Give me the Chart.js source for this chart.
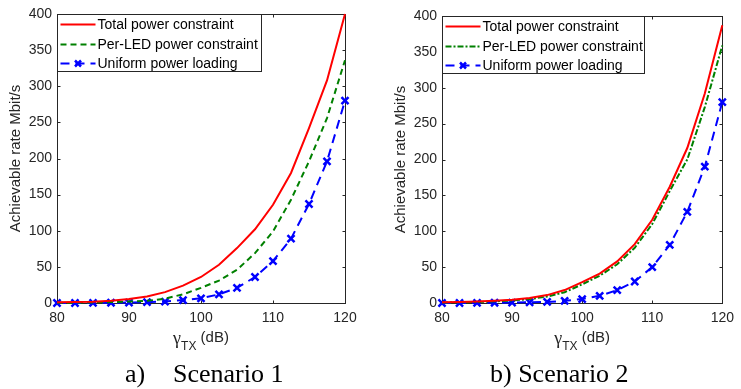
<!DOCTYPE html>
<html>
<head>
<meta charset="utf-8">
<script src="https://cdn.jsdelivr.net/npm/chart.js@4"></script>
<style>
body { margin:0; background:#fff; width:741px; height:389px; overflow:hidden; position:relative; }
canvas { position:absolute; top:0; }
.cap { position:absolute; font-family:"Liberation Serif", "Times New Roman", serif; font-size:26px; color:#000; white-space:pre; line-height:26px; }
</style>
</head>
<body>
<canvas id="c1" width="370" height="360" style="left:0"></canvas>
<canvas id="c2" width="371" height="360" style="left:370px"></canvas>
<div class="cap" style="left:125px; top:361px">a)</div>
<div class="cap" style="left:173px; top:361px">Scenario 1</div>
<div class="cap" style="left:490px; top:361px">b) Scenario 2</div>
<script>
// gamma_TX (dB) sample points, markers every 2.5 dB
const gammaTX = [80, 82.5, 85, 87.5, 90, 92.5, 95, 97.5, 100, 102.5, 105, 107.5, 110, 112.5, 115, 117.5, 120];

// Scenario 1 (Mbit/s)
const totalS1   = [1, 1.3, 1.8, 3, 5.5, 9, 15, 24, 36, 53, 76, 102, 136, 180, 242, 308, 400];
const perLedS1  = [0.3, 0.5, 0.8, 1.3, 2, 3, 6, 12, 21, 31, 46, 69, 99, 143, 196, 256, 336];
const uniformS1 = [0, 0, 0.2, 0.4, 0.6, 1.2, 2, 4, 6.5, 12, 21, 36, 58, 89, 137, 196, 280];

// Scenario 2 (Mbit/s)
const totalS2   = [1, 1.3, 2, 3, 4.5, 7, 11, 18, 29, 41, 58, 82, 116, 162, 216, 292, 387];
const perLedS2  = [0.7, 1, 1.5, 2.3, 3.5, 5.5, 9, 15, 26, 38, 54, 77, 110, 156, 200, 273, 359];
const uniformS2 = [0, 0, 0.2, 0.4, 0.6, 1, 1.5, 3, 5.5, 10, 18, 30, 50, 81, 127, 190, 280];

const seriesNames = ['Total power constraint', 'Per-LED power constraint', 'Uniform power loading'];
const xTicks = [80, 90, 100, 110, 120];
const yTicks = [0, 50, 100, 150, 200, 250, 300, 350, 400];

const axisColor = '#262626';
const sans = '"Liberation Sans", Arial, sans-serif';
const RED = '#ff0000', GREEN = '#008000', BLUE = '#0000ff';

function pts(ys) {
    return gammaTX.map((x, i) => ({ x: x, y: ys[i] }));
}

// caixa estilo matlab, ticks para dentro, titulos e legenda
const matlabBox = {
    id: 'matlabBox',
    beforeDatasetsDraw(chart, args, opts) {
        const ctx = chart.ctx;
        const a = chart.chartArea;
        const sx = chart.scales.x, sy = chart.scales.y;
        ctx.save();
        ctx.strokeStyle = axisColor;
        ctx.lineWidth = 1;
        const L = Math.round(a.left) + 0.5, R = Math.round(a.right) + 0.5;
        const T = Math.round(a.top) + 0.5, B = Math.round(a.bottom) + 0.5;
        ctx.strokeRect(L, T, R - L, B - T);
        ctx.beginPath();
        xTicks.forEach(v => {
            const px = Math.round(sx.getPixelForValue(v)) + 0.5;
            ctx.moveTo(px, B); ctx.lineTo(px, B - 3);
            ctx.moveTo(px, T); ctx.lineTo(px, T + 3);
        });
        yTicks.forEach(v => {
            const py = Math.round(sy.getPixelForValue(v)) + 0.5;
            ctx.moveTo(L, py); ctx.lineTo(L + 3, py);
            ctx.moveTo(R, py); ctx.lineTo(R - 3, py);
        });
        ctx.stroke();

        // titulo eixo y
        ctx.fillStyle = axisColor;
        ctx.font = '15px ' + sans;
        ctx.textAlign = 'center';
        ctx.textBaseline = 'middle';
        ctx.save();
        ctx.translate(a.left - 41, (a.top + a.bottom) / 2);
        ctx.rotate(-Math.PI / 2);
        ctx.fillText('Achievable rate Mbit/s', 0, 0);
        ctx.restore();

        // titulo eixo x: gamma_TX (dB)
        ctx.textAlign = 'left';
        ctx.textBaseline = 'alphabetic';
        const fG = '18px "Liberation Serif", serif', fS = '12px ' + sans, fD = '15px ' + sans;
        ctx.font = fG; const wG = ctx.measureText('γ').width;
        ctx.font = fS; const wS = ctx.measureText('TX').width;
        ctx.font = fD; const wD = ctx.measureText(' (dB)').width;
        let x0 = (a.left + a.right) / 2 - (wG + wS + wD) / 2;
        const base = a.bottom + 41;
        ctx.font = fG; ctx.fillText('γ', x0, base); x0 += wG;
        ctx.font = fS; ctx.fillText('TX', x0, base + 6); x0 += wS;
        ctx.font = fD; ctx.fillText(' (dB)', x0, base - 2);
        ctx.restore();
    },
    afterDatasetsDraw(chart, args, opts) {
        const ctx = chart.ctx;
        const a = chart.chartArea;
        const lx = Math.round(a.left) + 0.5, ly = Math.round(a.top) + 0.5;
        ctx.save();
        ctx.fillStyle = '#fff';
        ctx.fillRect(lx, ly, opts.w, opts.h);
        ctx.strokeStyle = axisColor;
        ctx.lineWidth = 1;
        ctx.strokeRect(lx, ly, opts.w, opts.h);
        const rows = [10, 30, 49];
        chart.data.datasets.forEach((ds, i) => {
            const y = ly + rows[i];
            ctx.strokeStyle = ds.borderColor;
            ctx.lineWidth = 2;
            ctx.setLineDash(ds.borderDash || []);
            ctx.beginPath();
            ctx.moveTo(lx + 3, y); ctx.lineTo(lx + 38, y);
            ctx.stroke();
            ctx.setLineDash([]);
            if (ds.pointRadius > 0) {
                const cx = lx + 20.5, r = 3;
                ctx.lineWidth = 2.5;
                ctx.beginPath();
                ctx.moveTo(cx - r, y - r); ctx.lineTo(cx + r, y + r);
                ctx.moveTo(cx - r, y + r); ctx.lineTo(cx + r, y - r);
                ctx.stroke();
            }
            ctx.fillStyle = '#000';
            ctx.font = '14px ' + sans;
            ctx.textBaseline = 'middle';
            ctx.fillText(ds.label, lx + 40, y + 1);
        });
        ctx.restore();
    }
};

function makeChart(id, area, W, H, total, perLed, uniform, perLedDash, legendW) {
    return new Chart(document.getElementById(id), {
        type: 'line',
        data: {
            datasets: [
                { label: seriesNames[0], data: pts(total), borderColor: RED, borderWidth: 2, pointRadius: 0, clip: false },
                { label: seriesNames[1], data: pts(perLed), borderColor: GREEN, borderWidth: 2, borderDash: perLedDash, pointRadius: 0, clip: false },
                { label: seriesNames[2], data: pts(uniform), borderColor: BLUE, borderWidth: 2, borderDash: [9, 6],
                  pointStyle: 'crossRot', pointRadius: 5, pointBorderWidth: 2.5, pointBorderColor: BLUE, clip: false }
            ]
        },
        options: {
            responsive: false,
            animation: false,
            devicePixelRatio: 1,
            layout: { padding: { left: 0, top: area.t, right: W - area.r, bottom: 0 } },
            plugins: {
                legend: { display: false },
                tooltip: { enabled: false },
                matlabBox: { w: legendW, h: 57 }
            },
            scales: {
                x: {
                    type: 'linear', min: 80, max: 120,
                    ticks: { stepSize: 10, color: axisColor, font: { family: sans, size: 14 }, padding: 7, maxRotation: 0 },
                    grid: { display: false, drawTicks: false },
                    border: { display: false },
                    afterFit: s => { s.height = H - area.b; }
                },
                y: {
                    type: 'linear', min: 0, max: 400,
                    ticks: { stepSize: 50, color: axisColor, font: { family: sans, size: 14 }, padding: 5 },
                    grid: { display: false, drawTicks: false },
                    border: { display: false },
                    afterFit: s => { s.width = area.l; }
                }
            }
        },
        plugins: [matlabBox]
    });
}

makeChart('c1', { l: 57, t: 14, r: 345, b: 303 }, 370, 360, totalS1, perLedS1, uniformS1, [6, 4], 204);
makeChart('c2', { l: 72, t: 16, r: 358, b: 303 }, 371, 360, totalS2, perLedS2, uniformS2, [6, 2, 2, 2], 202);
</script>
</body>
</html>
